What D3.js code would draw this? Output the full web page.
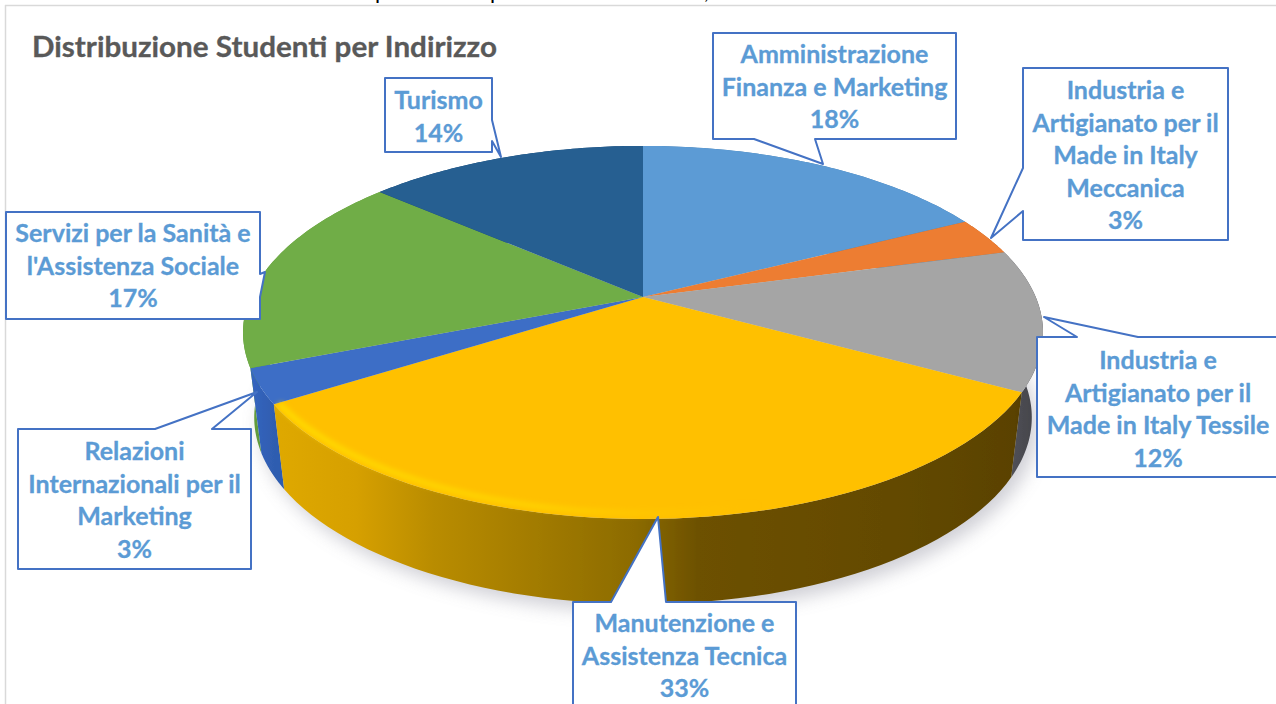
<!DOCTYPE html>
<html><head><meta charset="utf-8">
<script src="https://cdn.jsdelivr.net/npm/d3@7/dist/d3.min.js"></script>
<style>html,body{margin:0;padding:0;background:#fff;overflow:hidden}svg{display:block}text{font-family:Lato,sans-serif;font-weight:700}</style>
</head><body><svg id="c" width="1276" height="704"></svg>
<script>
const title = "Distribuzione Studenti per Indirizzo";
const categories = [
  ["Amministrazione","Finanza e Marketing"],
  ["Industria e","Artigianato per il","Made in Italy","Meccanica"],
  ["Industria e","Artigianato per il","Made in Italy Tessile"],
  ["Manutenzione e","Assistenza Tecnica"],
  ["Relazioni","Internazionali per il","Marketing"],
  ["Servizi per la Sanità e","l'Assistenza Sociale"],
  ["Turismo"]
];
const values = [17.5,3.3,12.2,33,3,17.4,13.6];
const topColors = ["#5b9bd5","#ed7d31","#a5a5a5","#ffc000","#3c6ec6","#70ad47","#255e91"];
const wallOrder = [0,6,1,5,2,4,3];
const wallStops = [
  [[0,"#4a7fb0"],[1,"#4a7fb0"]],
  [[0,"#b85f22"],[1,"#b85f22"]],
  [[0,"#55555b"],[.5,"#4a4a50"],[1,"#3f4046"]],
  [[0,"#e0aa00"],[.12,"#d6a000"],[.22,"#b98c00"],[.48,"#8c6b00"],[.56,"#6d5100"],[.8,"#644a00"],[.97,"#5a4200"],[1,"#4a3800"]],
  [[0,"#3566c0"],[1,"#2f5db0"]],
  [[0,"#5f9a3a"],[1,"#6aa541"]],
  [[0,"#1d4a74"],[1,"#1d4a74"]]
];
// callout layout: box l,t,r,b and tail points [on which side, points]
const callouts = [
  {l:713,t:33,r:956,b:139,first:63,side:"b",tail:[[815,139],[823,164],[754,139]]},
  {l:1023,t:68,r:1228,b:240,first:99,side:"l",tail:[[1023,211],[991,238],[1023,168]]},
  {l:1037,t:337,r:1279,b:477,first:369,side:"t",tail:[[1077,337],[1044,317],[1138,337]]},
  {l:573,t:602,r:796,b:740,first:632,side:"t",tail:[[611,602],[658,517],[666,602]]},
  {l:18,t:429,r:251,b:569,first:460,side:"t",tail:[[155,429],[257,392],[212,429]]},
  {l:6,t:212,r:260,b:319,first:242,side:"r",tail:[[260,274],[265,272],[260,297]]},
  {l:385,t:78,r:492,b:152,first:109,side:"r",tail:[[492,120],[501,157],[492,141]]}
];
const lineStep = 32.6, labelSize = 25;

const svg = d3.select("#c");
const cx = 643, cy = 297, ax = 392.7, ay = 179.8, persp = 0.19, depth = 85, shrink = 0.972;
const project = t => {
  const u = Math.sin(t), v = -Math.cos(t), d = 1 - persp * v;
  return [cx + ax * u / d, cy + ay * v / d];
};
const lower = p => [cx + (p[0] - cx) * shrink, p[1] + depth];
const arcPts = (a, b) => d3.range(0, 61).map(i => project(a + (b - a) * i / 60));
const line = d3.line();
const pie = d3.pie().sort(null)(values);

const defs = svg.append("defs");
const blur = (id, s) => defs.append("filter").attr("id", id)
  .attr("x","-10%").attr("y","-10%").attr("width","120%").attr("height","120%")
  .append("feGaussianBlur").attr("stdDeviation", s);
blur("soft", 0.7); blur("shadow", 9); blur("rim", 2.6);
const xWall = d3.scaleLinear().domain([0, 1]).range([cx - 380, cx + 395]);
wallStops.forEach((st, i) => {
  const pts = arcPts(pie[i].startAngle, pie[i].endAngle);
  const g = defs.append("linearGradient").attr("id", "w" + i).attr("gradientUnits", "userSpaceOnUse")
    .attr("x1", i === 3 ? xWall(0) : d3.min(pts, p => p[0]))
    .attr("x2", i === 3 ? xWall(1) : d3.max(pts, p => p[0]))
    .attr("y1", 0).attr("y2", 0);
  st.forEach(s => g.append("stop").attr("offset", s[0]).attr("stop-color", s[1]));
});

// frame
svg.append("line").attr("x1",5).attr("x2",1276).attr("y1",5.5).attr("y2",5.5).attr("stroke","#d9d9d9").attr("stroke-width",1.5);
svg.append("line").attr("x1",5.5).attr("x2",5.5).attr("y1",5).attr("y2",704).attr("stroke","#d9d9d9").attr("stroke-width",1.5);

// cropped line of text above the frame
defs.append("clipPath").attr("id","topclip").append("rect").attr("x",0).attr("y",0).attr("width",1276).attr("height",4.5);
const cropG = svg.append("g").attr("clip-path","url(#topclip)");
[[375,"p"],[490,"p"],[704,","]].forEach(d => cropG.append("text").attr("x",d[0]).attr("y",-1)
  .attr("font-size",22).attr("fill","#000").style("font-weight",400).text(d[1]));

// shadow
const bottomOutline = d3.range(0, 181).map(i => lower(project(i * Math.PI / 90)));
svg.append("path").attr("d", line(bottomOutline) + "Z").attr("fill","#8d8d9c").attr("opacity",.42)
  .attr("filter","url(#shadow)").attr("transform","translate(6,8)");

const pieG = svg.append("g").attr("filter","url(#soft)");
// walls
wallOrder.forEach(i => {
  const a = pie[i], top = arcPts(a.startAngle, a.endAngle);
  pieG.append("path").attr("d", line(top.concat(top.map(lower).reverse())) + "Z").attr("fill", `url(#w${i})`);
});
// top faces
pie.forEach((a, i) => {
  pieG.append("path").attr("d", line([[cx, cy]].concat(arcPts(a.startAngle, a.endAngle))) + "Z").attr("fill", topColors[i]);
});
// bevel highlight on the front slice
const front = pie[3];
const rimGrad = defs.append("linearGradient").attr("id","rimG").attr("gradientUnits","userSpaceOnUse")
  .attr("x1",270).attr("x2",760).attr("y1",0).attr("y2",0);
[[0,"#ffdc00",.9],[.55,"#ffd600",.75],[.85,"#ffc800",.4],[1,"#ffc000",0]].forEach(s =>
  rimGrad.append("stop").attr("offset",s[0]).attr("stop-color",s[1]).attr("stop-opacity",s[2]));
svg.append("path").attr("d", line(arcPts(front.startAngle + 0.03, front.endAngle - 0.03).map(p => [p[0], p[1] - 6])))
  .attr("fill","none").attr("stroke","url(#rimG)").attr("stroke-width",6).attr("filter","url(#rim)");

// title
svg.append("text").attr("x",32).attr("y",57).attr("font-size",28).attr("fill","#595959")
  .attr("stroke","#595959").attr("stroke-width",.3)
  .attr("textLength",465).attr("lengthAdjust","spacingAndGlyphs").text(title);

// callouts
callouts.forEach((c, i) => {
  const s = c.side, t = c.tail;
  let pts;
  if (s === "t") pts = [[c.l,c.t],...t,[c.r,c.t],[c.r,c.b],[c.l,c.b]];
  if (s === "r") pts = [[c.l,c.t],[c.r,c.t],...t,[c.r,c.b],[c.l,c.b]];
  if (s === "b") pts = [[c.l,c.t],[c.r,c.t],[c.r,c.b],...t,[c.l,c.b]];
  if (s === "l") pts = [[c.l,c.t],[c.r,c.t],[c.r,c.b],[c.l,c.b],...t];
  svg.append("path").attr("d", line(pts) + "Z").attr("fill","#fff").attr("stroke","#4472c4").attr("stroke-width",2).attr("stroke-linejoin","round");
  const lines = categories[i].concat(d3.format(".0f")(values[i]) + "%");
  const mid = (c.l + c.r) / 2;
  lines.forEach((ln, k) => {
    svg.append("text").attr("x", mid).attr("y", c.first + k * lineStep).attr("text-anchor","middle")
      .attr("font-size", labelSize).attr("fill","#5b9bd5").attr("stroke","#5b9bd5").attr("stroke-width",.3).text(ln);
  });
});
</script></body></html>
